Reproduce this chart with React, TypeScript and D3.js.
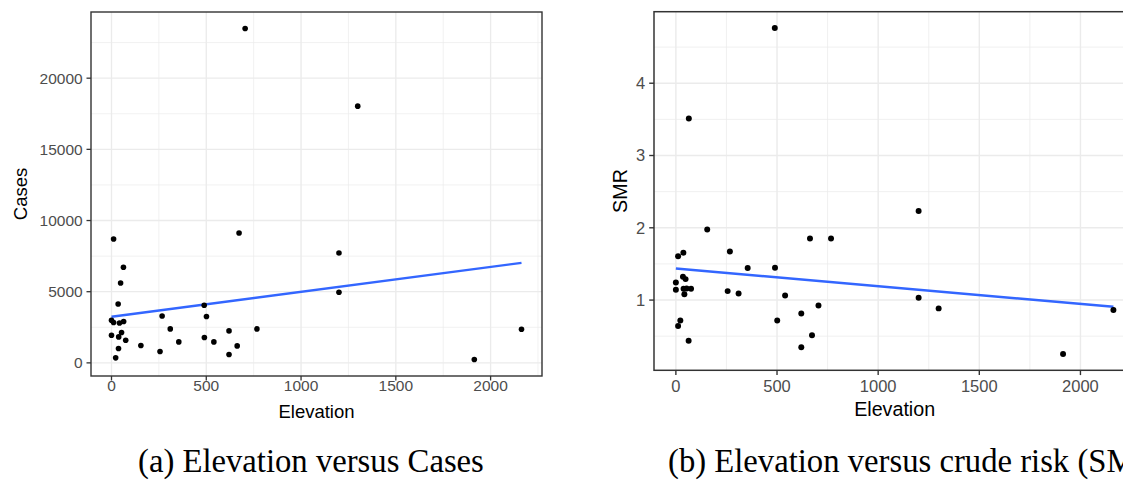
import React from "react";
import * as d3 from "d3";

// values (same districts in both)
const elevation = [0, 0, 11, 11, 22, 35, 37, 38, 42, 48, 53, 63, 64, 75, 155, 256, 267, 310, 355, 489, 490, 501, 540, 620, 620, 663, 673, 705, 767, 1200, 1200, 1299, 1914, 2163];
const cases = [2996, 1943, 8700, 2834, 351, 4140, 1010, 1824, 2806, 5614, 2133, 6713, 2904, 1592, 1220, 800, 3298, 2386, 1473, 4048, 1782, 3255, 1473, 2245, 589, 1193, 9120, 23487, 2386, 7720, 4961, 18035, 240, 2365];
const smr = [1.243, 1.142, 1.607, 0.641, 0.718, 1.322, 1.656, 1.156, 1.082, 1.29, 1.161, 0.438, 3.513, 1.156, 1.976, 1.124, 1.671, 1.092, 1.443, 4.764, 1.446, 0.718, 1.064, 0.815, 0.346, 1.851, 0.512, 0.926, 1.851, 2.233, 1.032, 0.885, 0.254, 0.862];

const elevTicks = [0, 500, 1000, 1500, 2000];
const casesTicks = [0, 5000, 10000, 15000, 20000];
const smrTicks = [1, 2, 3, 4];

const captionA = "(a) Elevation versus Cases";
const captionB = "(b) Elevation versus crude risk (SMR)";

const SANS = "'Liberation Sans', Arial, sans-serif";
const SERIF = "'Liberation Serif', 'Times New Roman', serif";

// ggplot style 5% expansion
function expand(vals: number[]): [number, number] {
  const [a, b] = d3.extent(vals) as [number, number];
  const p = (b - a) * 0.05;
  return [a - p, b + p];
}

function minorOf(ticks: number[], dom: number[]) {
  const step = ticks[1] - ticks[0];
  const b = [ticks[0] - step, ...ticks, ticks[ticks.length - 1] + step];
  const out: number[] = [];
  for (let i = 0; i < b.length - 1; i++) {
    const m = (b[i] + b[i + 1]) / 2;
    if (m > dom[0] && m < dom[1]) out.push(m);
  }
  return out;
}

// least squares line, like geom_smooth(method = "lm")
function lmFit(xs: number[], ys: number[]) {
  const mx = d3.mean(xs)!;
  const my = d3.mean(ys)!;
  let sxy = 0, sxx = 0;
  xs.forEach((x, i) => {
    sxy += (x - mx) * (ys[i] - my);
    sxx += (x - mx) * (x - mx);
  });
  const b = sxy / sxx;
  const a = my - b * mx;
  const [x0, x1] = d3.extent(xs) as [number, number];
  return [[x0, a + b * x0], [x1, a + b * x1]];
}

type PanelProps = {
  x0: number; x1: number; y0: number; y1: number;
  ys: number[]; yTicks: number[]; yTitle: string;
  k: number; xLabelY: number; xTitleY: number; yTitleX: number;
};

function Panel(p: PanelProps) {
  const { x0, x1, y0, y1, k } = p;
  const xDom = expand(elevation);
  const yDom = expand(p.ys);
  const x = d3.scaleLinear().domain(xDom).range([x0, x1]);
  const y = d3.scaleLinear().domain(yDom).range([y1, y0]);
  const xMinor = minorOf(elevTicks, xDom);
  const yMinor = minorOf(p.yTicks, yDom);
  const fitPts = lmFit(elevation, p.ys);
  const line = d3.line<number[]>().x(d => x(d[0])).y(d => y(d[1]));
  const tick = 4.5 * k;
  const tickFont = 15.5 * k;
  const titleFont = 18.5 * k;

  return (
    <g>
      <rect x={x0} y={y0} width={x1 - x0} height={y1 - y0} fill="#fff" />
      {xMinor.map(v => (
        <line key={"xm" + v} x1={x(v)} x2={x(v)} y1={y0} y2={y1} stroke="#EBEBEB" strokeWidth={0.7 * k} />
      ))}
      {yMinor.map(v => (
        <line key={"ym" + v} x1={x0} x2={x1} y1={y(v)} y2={y(v)} stroke="#EBEBEB" strokeWidth={0.7 * k} />
      ))}
      {elevTicks.map(v => (
        <line key={"xg" + v} x1={x(v)} x2={x(v)} y1={y0} y2={y1} stroke="#EBEBEB" strokeWidth={1.35 * k} />
      ))}
      {p.yTicks.map(v => (
        <line key={"yg" + v} x1={x0} x2={x1} y1={y(v)} y2={y(v)} stroke="#EBEBEB" strokeWidth={1.35 * k} />
      ))}
      <path d={line(fitPts) || ""} fill="none" stroke="#3366FF" strokeWidth={2.4 * k} />
      {elevation.map((e, i) => (
        <circle key={i} cx={x(e)} cy={y(p.ys[i])} r={2.8 * k} fill="#000" />
      ))}
      <rect x={x0} y={y0} width={x1 - x0} height={y1 - y0} fill="none" stroke="#333333" strokeWidth={1.4 * k} />

      {elevTicks.map(v => (
        <g key={"xt" + v}>
          <line x1={x(v)} x2={x(v)} y1={y1} y2={y1 + tick} stroke="#333333" strokeWidth={1.3 * k} />
          <text x={x(v)} y={p.xLabelY} textAnchor="middle" fontSize={tickFont} fill="#4D4D4D" fontFamily={SANS}>{v}</text>
        </g>
      ))}
      {p.yTicks.map(v => (
        <g key={"yt" + v}>
          <line x1={x0 - tick} x2={x0} y1={y(v)} y2={y(v)} stroke="#333333" strokeWidth={1.3 * k} />
          <text x={x0 - tick - 3.8 * k} y={y(v)} dy="0.36em" textAnchor="end" fontSize={tickFont} fill="#4D4D4D" fontFamily={SANS}>{v}</text>
        </g>
      ))}
      <text x={(x0 + x1) / 2} y={p.xTitleY} textAnchor="middle" fontSize={titleFont} fill="#000" fontFamily={SANS}>Elevation</text>
      <text transform={`translate(${p.yTitleX},${(y0 + y1) / 2}) rotate(-90)`} textAnchor="middle" fontSize={titleFont} fill="#000" fontFamily={SANS}>{p.yTitle}</text>
    </g>
  );
}

export default function App() {
  return (
    <svg width={1123} height={487} style={{ position: "absolute", left: 0, top: 0, background: "#fff" }}>
      <rect width={1123} height={487} fill="#fff" />
      <Panel x0={91} x1={542} y0={12} y1={376} ys={cases} yTicks={casesTicks} yTitle="Cases"
        k={1} xLabelY={390.5} xTitleY={418} yTitleX={27} />
      <Panel x0={654} x1={1135.3} y0={11.7} y1={370.3} ys={smr} yTicks={smrTicks} yTitle="SMR"
        k={1.065} xLabelY={392} xTitleY={416} yTitleX={627} />
      <text x={138} y={472} fontSize={32.7} fontFamily={SERIF} fill="#000">{captionA}</text>
      <text x={668} y={472} fontSize={32.7} fontFamily={SERIF} fill="#000">{captionB}</text>
    </svg>
  );
}
